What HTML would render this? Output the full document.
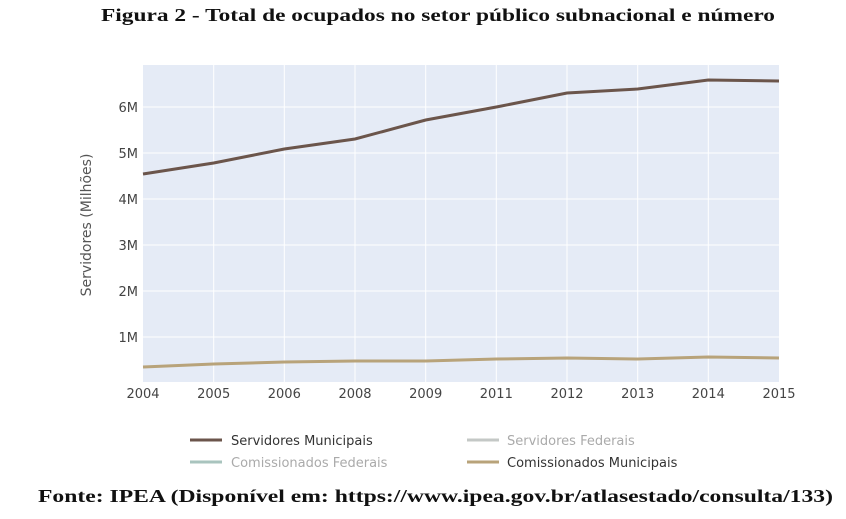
<!DOCTYPE html>
<html><head><meta charset="utf-8"><style>
body{margin:0;width:846px;height:514px;background:#fff;overflow:hidden}
</style></head><body>
<svg width="846" height="514" xmlns="http://www.w3.org/2000/svg">
<text x="101" y="21" textLength="674" lengthAdjust="spacingAndGlyphs" font-family="Liberation Serif, serif" font-weight="bold" font-size="18" fill="#111">Figura 2 - Total de ocupados no setor público subnacional e número</text>
<rect x="143" y="65" width="636" height="317" fill="#e5ebf6"/>
<g stroke="#fff" stroke-width="1">
<line x1="143" x2="779" y1="107" y2="107"/><line x1="143" x2="779" y1="153" y2="153"/>
<line x1="143" x2="779" y1="199" y2="199"/><line x1="143" x2="779" y1="245" y2="245"/>
<line x1="143" x2="779" y1="291" y2="291"/><line x1="143" x2="779" y1="337" y2="337"/>
<line x1="213.7" x2="213.7" y1="65" y2="382"/><line x1="284.3" x2="284.3" y1="65" y2="382"/>
<line x1="355" x2="355" y1="65" y2="382"/><line x1="425.7" x2="425.7" y1="65" y2="382"/>
<line x1="496.3" x2="496.3" y1="65" y2="382"/><line x1="567" x2="567" y1="65" y2="382"/>
<line x1="637.7" x2="637.7" y1="65" y2="382"/><line x1="708.3" x2="708.3" y1="65" y2="382"/>
</g>
<polyline fill="none" stroke="#b8a37a" stroke-width="3" points="143,367 213.7,364 284.3,362 355,361 425.7,361 496.3,359 567,358 637.7,359 708.3,357 779,358"/>
<polyline fill="none" stroke="#6b554b" stroke-width="3" points="143,174 213.7,163 284.3,149 355,139 425.7,120 496.3,107 567,93 637.7,89 708.3,80 779,81"/>
<g font-family="DejaVu Sans, sans-serif" font-size="13" fill="#444" text-anchor="end">
<text x="138" y="112">6M</text><text x="138" y="158">5M</text><text x="138" y="204">4M</text>
<text x="138" y="250">3M</text><text x="138" y="296">2M</text><text x="138" y="342">1M</text>
</g>
<g font-family="DejaVu Sans, sans-serif" font-size="13" fill="#444" text-anchor="middle">
<text x="143" y="398">2004</text><text x="213.7" y="398">2005</text><text x="284.3" y="398">2006</text>
<text x="355" y="398">2008</text><text x="425.7" y="398">2009</text><text x="496.3" y="398">2011</text>
<text x="567" y="398">2012</text><text x="637.7" y="398">2013</text><text x="708.3" y="398">2014</text>
<text x="779" y="398">2015</text>
</g>
<text transform="translate(91,225) rotate(-90)" text-anchor="middle" font-family="DejaVu Sans, sans-serif" font-size="14" fill="#555">Servidores (Milhões)</text>
<g font-family="DejaVu Sans, sans-serif" font-size="13">
<line x1="190" x2="222" y1="440" y2="440" stroke="#6b554b" stroke-width="3"/>
<text x="231" y="445" fill="#333">Servidores Municipais</text>
<line x1="467" x2="499" y1="440" y2="440" stroke="#c4c8c6" stroke-width="3"/>
<text x="507" y="445" fill="#aaa">Servidores Federais</text>
<line x1="190" x2="222" y1="462" y2="462" stroke="#a9c4be" stroke-width="3"/>
<text x="231" y="467" fill="#aaa">Comissionados Federais</text>
<line x1="467" x2="499" y1="462" y2="462" stroke="#b8a37a" stroke-width="3"/>
<text x="507" y="467" fill="#333">Comissionados Municipais</text>
</g>
<text x="38" y="502" textLength="795" lengthAdjust="spacingAndGlyphs" font-family="Liberation Serif, serif" font-weight="bold" font-size="18" fill="#111">Fonte: IPEA (Disponível em: https://www.ipea.gov.br/atlasestado/consulta/133)</text>
</svg>
</body></html>
